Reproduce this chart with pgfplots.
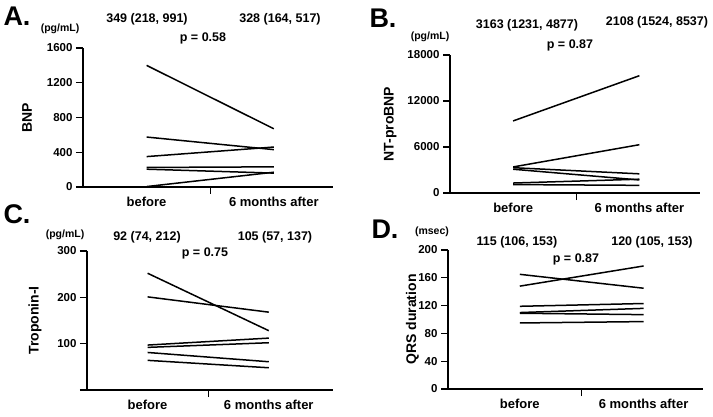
\documentclass[border=0pt]{standalone}
\usepackage{fontspec}
\setmainfont{Liberation Sans}
\usepackage{pgfplots}
\pgfplotsset{compat=1.18}

\pgfplotsset{
  paired/.style={
    scale only axis,
    anchor=south west,
    axis lines*=left,
    axis line style={line width=1.2pt},
    tick style={line width=1.2pt, black},
    tick align=outside,
    major tick length=7pt,
    xtick={0.5}, xticklabels={},
    extra x ticks={0,1},
    extra x tick labels={before, 6 months after},
    extra x tick style={major tick length=0pt},
    xticklabel style={font=\bfseries\fontsize{13}{14}\selectfont, yshift=-7pt},
    yticklabel style={font=\bfseries\fontsize{11.5}{13}\selectfont},
    ylabel style={font=\bfseries\fontsize{14}{16}\selectfont},
    /pgf/number format/assume math mode=true,
    /pgf/number format/1000 sep={},
    scaled y ticks=false,
    ymin=0,
    clip=false,
  },
  pair/.style={black, line width=1.5pt, no marks},
}

\begin{document}
\begin{tikzpicture}
\path[use as bounding box] (0,0) rectangle (713pt,416pt);

% A. BNP
\begin{axis}[paired, at={(83pt,229pt)}, width=250pt, height=139pt,
  xmin=-0.5, xmax=1.465, ymax=1600, ytick={0,400,800,1200,1600},
  ylabel={BNP}, ylabel style={at={(axis description cs:-0.19,0.5)}}]
\addplot[pair] coordinates {(0,1400) (1,670)};
\addplot[pair] coordinates {(0,575) (1,430)};
\addplot[pair] coordinates {(0,350) (1,460)};
\addplot[pair] coordinates {(0,225) (1,232)};
\addplot[pair] coordinates {(0,205) (1,160)};
\addplot[pair] coordinates {(0,5) (1,170)};
\end{axis}

% B. NT-proBNP
\begin{axis}[paired, at={(450pt,223pt)}, width=250pt, height=138pt,
  xmin=-0.5, xmax=1.48, ymax=18000, ytick={0,6000,12000,18000},
  ylabel={NT-proBNP}, ylabel style={at={(axis description cs:-0.20,0.5)}}]
\addplot[pair] coordinates {(0,9400) (1,15300)};
\addplot[pair] coordinates {(0,3400) (1,6300)};
\addplot[pair] coordinates {(0,3300) (1,2500)};
\addplot[pair] coordinates {(0,3100) (1,1700)};
\addplot[pair] coordinates {(0,1300) (1,1800)};
\addplot[pair] coordinates {(0,1100) (1,1000)};
\end{axis}

% C. Troponin-I
\begin{axis}[paired, at={(87pt,26pt)}, width=246pt, height=139pt,
  xmin=-0.5, xmax=1.53, ymax=300, ytick={0,100,200,300},
  yticklabels={,100,200,300},
  ylabel={Troponin-I}, ylabel style={at={(axis description cs:-0.17,0.5)}}]
\addplot[pair] coordinates {(0,252) (1,128)};
\addplot[pair] coordinates {(0,201) (1,168)};
\addplot[pair] coordinates {(0,97) (1,112)};
\addplot[pair] coordinates {(0,92) (1,102)};
\addplot[pair] coordinates {(0,81) (1,61)};
\addplot[pair] coordinates {(0,64) (1,48)};
\end{axis}

% D. QRS duration
\begin{axis}[paired, at={(448pt,27pt)}, width=255pt, height=139pt,
  xmin=-0.58, xmax=1.48, ymax=200, ytick={0,40,80,120,160,200},
  ylabel={QRS duration}, ylabel style={at={(axis description cs:-0.10,0.5)}}]
\addplot[pair] coordinates {(0,165) (1,145)};
\addplot[pair] coordinates {(0,148) (1,177)};
\addplot[pair] coordinates {(0,119) (1,123)};
\addplot[pair] coordinates {(0,110) (1,116)};
\addplot[pair] coordinates {(0,109) (1,107)};
\addplot[pair] coordinates {(0,95) (1,97)};
\end{axis}

% annotations, pixel coordinates measured from the top left
\begin{scope}[x=1pt, y=-1pt, shift={(0,416pt)},
  every node/.style={font=\bfseries\fontsize{12.5}{14}\selectfont, inner sep=0pt}]
\node[font=\bfseries\fontsize{27}{30}\selectfont] at (17,16) {A.};
\node[font=\bfseries\fontsize{10.5}{12}\selectfont] at (60,29) {(pg/mL)};
\node at (147,19) {349 (218, 991)};
\node at (280,19) {328 (164, 517)};
\node at (203,38) {p = 0.58};

\node[font=\bfseries\fontsize{27}{30}\selectfont] at (383,18) {B.};
\node[font=\bfseries\fontsize{10.5}{12}\selectfont] at (430,37) {(pg/mL)};
\node at (527,25) {3163 (1231, 4877)};
\node at (657,22) {2108 (1524, 8537)};
\node at (570,45) {p = 0.87};

\node[font=\bfseries\fontsize{27}{30}\selectfont] at (17,214) {C.};
\node[font=\bfseries\fontsize{10.5}{12}\selectfont] at (65,235) {(pg/mL)};
\node at (147,237) {92 (74, 212)};
\node at (275,237) {105 (57, 137)};
\node at (205,253) {p = 0.75};

\node[font=\bfseries\fontsize{27}{30}\selectfont] at (385,229) {D.};
\node[font=\bfseries\fontsize{10.5}{12}\selectfont] at (432,232) {(msec)};
\node at (517,242) {115 (106, 153)};
\node at (652,242) {120 (105, 153)};
\node at (576,259) {p = 0.87};
\end{scope}
\end{tikzpicture}
\end{document}
